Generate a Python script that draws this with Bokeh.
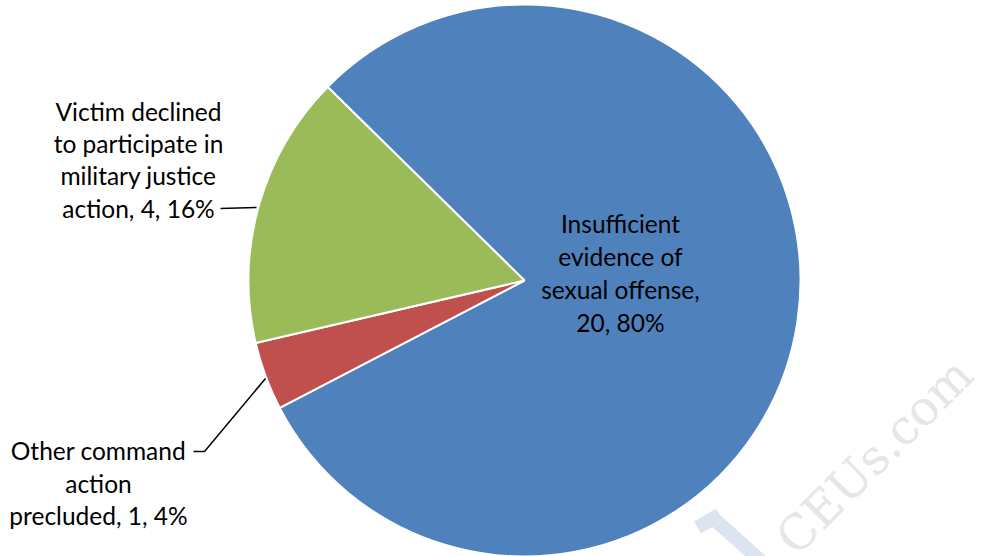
import math
from bokeh.plotting import figure
from bokeh.models import Range1d
from bokeh.core.properties import value
from bokeh.embed import file_html
from bokeh.resources import INLINE

# ---- data ----
categories = ["Insufficient evidence of sexual offense",
              "Other command action precluded",
              "Victim declined to participate in military justice action"]
counts = [20, 1, 4]
percents = [80, 4, 16]
colors = ["#4F81BD", "#C0504D", "#9BBB59"]

label_blue = ["Insufficient", "evidence of", "sexual offense,", "20, 80%"]
label_red = ["Other command", "action", "precluded, 1, 4%"]
label_green = ["Victim declined", "to participate in", "military justice", "action, 4, 16%"]

# ---- layout (data units == pixels of the page, y flipped) ----
W, H = 981, 556
def Y(yref):
    return H - yref

p = figure(width=W, height=H, x_range=Range1d(0, W), y_range=Range1d(0, H),
           output_backend="svg", toolbar_location=None, min_border=0)
p.axis.visible = False
p.grid.visible = False
p.outline_line_color = None
p.background_fill_color = "white"

# watermark
p.text(x=[784], y=[Y(545)], text=["CEUs.com"], angle=[math.radians(45)],
       text_font=value("DejaVu Serif"), text_font_size="48px", text_color="#e6e6e6",
       text_align="left", text_baseline="alphabetic")
p.line(x=[697, 719], y=[Y(527), Y(514)], line_color="#dce5ef", line_width=14)
p.line(x=[713, 760], y=[Y(518), Y(560)], line_color="#dce5ef", line_width=14)

# pie
cx, cy, r = 524, Y(280), 276
start_deg = 135.5
total = sum(counts)
ang = start_deg
for c, col in zip(counts, colors):
    span = c / total * 360.0
    p.wedge(x=[cx], y=[cy], radius=r, radius_units="screen",
            start_angle=math.radians(ang - span), end_angle=math.radians(ang),
            fill_color=col, line_color="white", line_width=2)
    ang -= span

font = value("Lato")
fs = "24.5px"

def draw_lines(lines, xc, baselines):
    p.text(x=[xc] * len(lines), y=[Y(b) for b in baselines], text=lines,
           text_font=font, text_font_size=fs, text_color="black",
           text_align="center", text_baseline="alphabetic")

draw_lines(label_blue, 620, [223, 256, 289, 322])
draw_lines(label_green, 138, [111, 143, 175, 208])
draw_lines(label_red, 98, [450, 483, 515])

# leader lines
p.line(x=[220, 256], y=[Y(208), Y(207)], line_color="black", line_width=1.5)
p.line(x=[193, 204, 265], y=[Y(451), Y(451), Y(378)], line_color="black", line_width=1.5)

open("out.html", "w").write(file_html(p, INLINE))
